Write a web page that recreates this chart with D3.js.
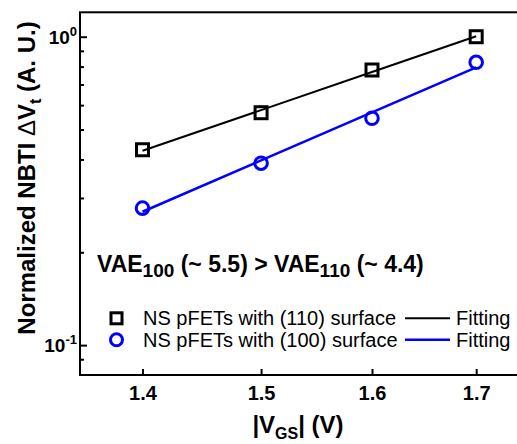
<!DOCTYPE html>
<html>
<head>
<meta charset="utf-8">
<script src="https://cdn.jsdelivr.net/npm/d3@7"></script>
<style>
  body { margin: 0; background: #fff; }
  svg { display: block; font-family: "Liberation Sans", Arial, sans-serif; }
  .axis path, .axis line { stroke: #000; stroke-width: 2; }
  .axis text { font-size: 20px; font-weight: bold; fill: #000; }
</style>
</head>
<body>
<svg id="chart" width="517" height="444"></svg>
<script>
// data

const vgs = [1.4, 1.5, 1.6, 1.7];
const surface110 = [0.43, 0.567, 0.78, 1.0];
const surface100 = [0.278, 0.389, 0.544, 0.826];

const xTicks = [1.4, 1.5, 1.6, 1.7];
const yMajorTicks = [0.1, 1];
const yMajorLabels = ["-1", "0"];
const yMinorTicks = [0.09, 0.2, 0.3, 0.4, 0.5, 0.6, 0.7, 0.8, 0.9];

const legendLabels = ["NS pFETs with (110) surface", "NS pFETs with (100) surface"];
const colors = ["#000000", "#0000ff"];

// layout

let plotLeft = 80, plotTop = 12.3, plotRight = 526, plotBottom = 375;

let svg = d3.select("#chart");

let x = d3.scaleLog().domain([1.35, 1.75]).range([plotLeft, plotRight]);
let y = d3.scaleLog().domain([0.08, 1.2]).range([plotBottom, plotTop]);

// power-law fit in log-log space
function fit(xs, ys) {
  let lx = xs.map(Math.log), ly = ys.map(Math.log);
  let mx = d3.mean(lx), my = d3.mean(ly);
  let b = d3.sum(lx, (v, i) => (v - mx) * (ly[i] - my)) / d3.sum(lx, v => (v - mx) * (v - mx));
  let a = my - b * mx;
  return xs.map(v => [v, Math.exp(a + b * Math.log(v))]);
}

// frame
svg.append("rect")
    .attr("x", plotLeft)
    .attr("y", plotTop)
    .attr("width", plotRight - plotLeft)
    .attr("height", plotBottom - plotTop)
    .attr("fill", "none")
    .attr("stroke", "#000")
    .attr("stroke-width", 2);

// x axis
svg.append("g")
    .attr("class", "axis")
    .attr("transform", `translate(0,${plotBottom})`)
    .call(d3.axisBottom(x)
      .tickValues(xTicks)
      .tickFormat(d3.format(".1f"))
      .tickSizeInner(-6)
      .tickSizeOuter(0)
      .tickPadding(11))
    .call(g => g.select(".domain").remove());

// y axis, minor ticks
svg.append("g")
    .attr("class", "axis")
    .attr("transform", `translate(${plotLeft},0)`)
    .call(d3.axisLeft(y).tickValues(yMinorTicks).tickFormat("").tickSize(-4))
    .call(g => g.select(".domain").remove());

// y axis, major ticks
svg.append("g")
    .attr("class", "axis")
    .attr("transform", `translate(${plotLeft},0)`)
    .call(d3.axisLeft(y).tickValues(yMajorTicks).tickFormat("").tickSize(-7))
    .call(g => g.select(".domain").remove());

// y tick labels 10^n
let yLabels = svg.append("g")
    .selectAll("text")
    .data(yMajorTicks)
    .join("text")
    .attr("x", 77)
    .attr("y", d => y(d) + 7)
    .attr("text-anchor", "end")
    .attr("font-size", 19)
    .attr("font-weight", "bold");

yLabels.append("tspan").text("10");
yLabels.append("tspan")
    .attr("font-size", 13)
    .attr("dy", -8)
    .text((d, i) => yMajorLabels[i]);

// fitting lines
let line = d3.line().x(d => x(d[0])).y(d => y(d[1]));

[surface110, surface100].forEach((s, i) => {
  svg.append("path")
      .attr("d", line(fit(vgs, s)))
      .attr("fill", "none")
      .attr("stroke", colors[i])
      .attr("stroke-width", i ? 2.5 : 2);
});

// squares, (110)
svg.append("g")
    .selectAll("rect")
    .data(vgs)
    .join("rect")
    .attr("x", (d, i) => x(d) - 6)
    .attr("y", (d, i) => y(surface110[i]) - 6)
    .attr("width", 12)
    .attr("height", 12)
    .attr("fill", "none")
    .attr("stroke", colors[0])
    .attr("stroke-width", 3);

// circles, (100)
svg.append("g")
    .selectAll("circle")
    .data(vgs)
    .join("circle")
    .attr("cx", d => x(d))
    .attr("cy", (d, i) => y(surface100[i]))
    .attr("r", 6.3)
    .attr("fill", "none")
    .attr("stroke", colors[1])
    .attr("stroke-width", 3);

// annotation
let note = svg.append("text")
    .attr("x", 97)
    .attr("y", 272)
    .attr("font-size", 23)
    .attr("font-weight", "bold");

note.append("tspan").text("VAE");
note.append("tspan").attr("font-size", 19).attr("dy", 5).text("100");
note.append("tspan").attr("dy", -5).text(" (~ 5.5) > VAE");
note.append("tspan").attr("font-size", 19).attr("dy", 5).text("110");
note.append("tspan").attr("dy", -5).text(" (~ 4.4)");

// legend
let legend = svg.append("g");
let rowY = [318.3, 339.7];

legend.append("rect")
    .attr("x", 111)
    .attr("y", rowY[0] - 5.5)
    .attr("width", 11)
    .attr("height", 11)
    .attr("fill", "none")
    .attr("stroke", colors[0])
    .attr("stroke-width", 3);

legend.append("circle")
    .attr("cx", 116.5)
    .attr("cy", rowY[1])
    .attr("r", 6)
    .attr("fill", "none")
    .attr("stroke", colors[1])
    .attr("stroke-width", 3);

legendLabels.forEach((label, i) => {
  legend.append("text")
      .attr("x", 143)
      .attr("y", rowY[i] + 7)
      .attr("font-size", 20)
      .text(label);

  legend.append("line")
      .attr("x1", 405)
      .attr("x2", 450)
      .attr("y1", rowY[i])
      .attr("y2", rowY[i])
      .attr("stroke", colors[i])
      .attr("stroke-width", i ? 2.5 : 2);

  legend.append("text")
      .attr("x", 456)
      .attr("y", rowY[i] + 7)
      .attr("font-size", 20)
      .text("Fitting");
});

// axis titles
let xTitle = svg.append("text")
    .attr("x", 298)
    .attr("y", 433)
    .attr("text-anchor", "middle")
    .attr("font-size", 24)
    .attr("font-weight", "bold");

xTitle.append("tspan").text("|V");
xTitle.append("tspan").attr("font-size", 16).attr("dy", 6).text("GS");
xTitle.append("tspan").attr("dy", -6).text("| (V)");

let yTitle = svg.append("text")
    .attr("transform", "translate(35,178) rotate(-90)")
    .attr("text-anchor", "middle")
    .attr("font-size", 24)
    .attr("font-weight", "bold");

yTitle.append("tspan").text("Normalized NBTI ");
yTitle.append("tspan").attr("font-weight", "normal").text("\u0394");
yTitle.append("tspan").text("V");
yTitle.append("tspan").attr("font-size", 16).attr("dy", 6).text("t");
yTitle.append("tspan").attr("dy", -6).text(" (A. U.)");
</script>
</body>
</html>
